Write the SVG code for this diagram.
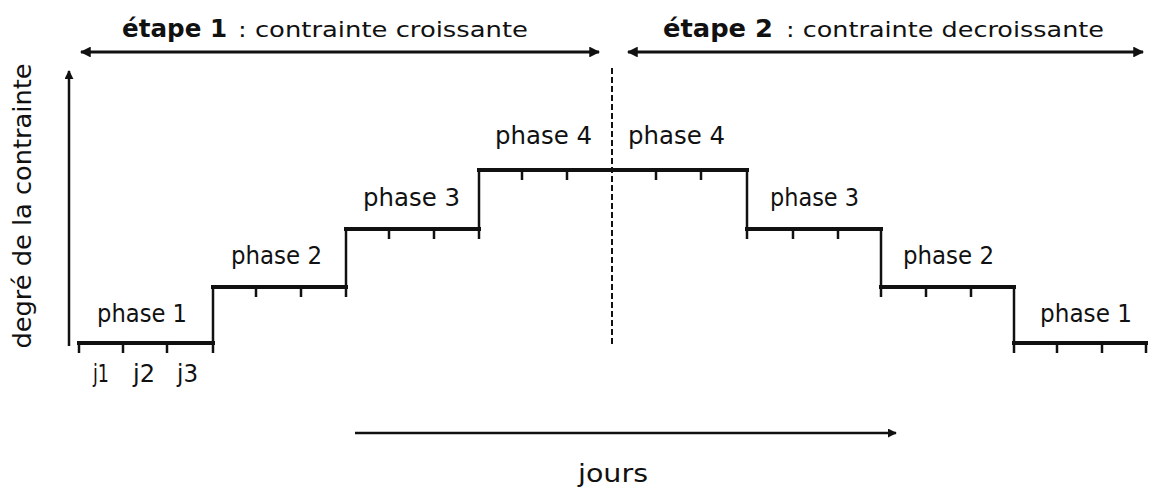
<svg xmlns="http://www.w3.org/2000/svg" width="1150" height="491" viewBox="0 0 1150 491">
  <style>
    text { font-family: "DejaVu Sans", "Liberation Sans", sans-serif; fill: #111; }
    .title { font-size: 25px; font-weight: bold; }
    .sub { font-size: 22px; }
    .lbl { font-size: 24px; }
    .step { stroke: #111; stroke-width: 4; fill: none; stroke-linecap: square; }
    .thin { stroke: #111; stroke-width: 2.5; fill: none; }
    .arrow { stroke: #111; stroke-width: 3; fill: none; }
    .dash { stroke: #111; stroke-width: 2; stroke-dasharray: 6 3; fill: none; }
  </style>
  <defs>
    <marker id="ah" viewBox="0 0 10 10" refX="9" refY="5" markerWidth="3.6" markerHeight="3.6" orient="auto-start-reverse" markerUnits="strokeWidth">
      <path d="M0,0 L10,5 L0,10 Z" fill="#111"/>
    </marker>
  </defs>
  <rect width="1150" height="491" fill="#fff"/>

  <g id="titles">
    <text class="title" x="122" y="37" textLength="105" lengthAdjust="spacingAndGlyphs">étape 1</text>
    <text class="sub" x="238" y="37" textLength="290" lengthAdjust="spacingAndGlyphs">: contrainte croissante</text>
    <text class="title" x="663" y="37" textLength="110" lengthAdjust="spacingAndGlyphs">étape 2</text>
    <text class="sub" x="786" y="37" textLength="318" lengthAdjust="spacingAndGlyphs">: contrainte decroissante</text>
  </g>

  <g id="connectors">
    <line class="arrow" x1="81" y1="52" x2="599" y2="52" marker-start="url(#ah)" marker-end="url(#ah)"/>
    <line class="arrow" x1="628" y1="52" x2="1143" y2="52" marker-start="url(#ah)" marker-end="url(#ah)"/>
    <line class="thin" x1="69" y1="346" x2="69" y2="71" marker-end="url(#ah)"/>
    <line class="thin" x1="355" y1="433" x2="896" y2="433" marker-end="url(#ah)"/>
    <line class="dash" x1="612" y1="68" x2="612" y2="346"/>
  </g>

  <g id="steps">
    <line class="step" x1="79" y1="343" x2="213" y2="343"/>
    <line class="step" x1="213" y1="287" x2="346" y2="287"/>
    <line class="step" x1="346" y1="229" x2="479" y2="229"/>
    <line class="step" x1="479" y1="170" x2="747" y2="170"/>
    <line class="step" x1="747" y1="229" x2="881" y2="229"/>
    <line class="step" x1="881" y1="287" x2="1014" y2="287"/>
    <line class="step" x1="1014" y1="343" x2="1146" y2="343"/>
    <line class="thin" x1="213" y1="287" x2="213" y2="353"/>
    <line class="thin" x1="346" y1="229" x2="346" y2="297"/>
    <line class="thin" x1="479" y1="170" x2="479" y2="239"/>
    <line class="thin" x1="747" y1="170" x2="747" y2="239"/>
    <line class="thin" x1="881" y1="229" x2="881" y2="297"/>
    <line class="thin" x1="1014" y1="287" x2="1014" y2="353"/>
    <line class="thin" x1="79" y1="343" x2="79" y2="353"/>
    <line class="thin" x1="1146" y1="343" x2="1146" y2="353"/>
    <path class="thin" d="M123,343 v10 M167,343 v10
      M256,287 v10 M301,287 v10
      M389,229 v10 M434,229 v10
      M522,170 v10 M567,170 v10 M656,170 v10 M701,170 v10
      M793,229 v10 M838,229 v10
      M926,287 v10 M971,287 v10
      M1057,343 v10 M1102,343 v10"/>
  </g>

  <g id="labels">
    <text class="lbl" x="97" y="322" textLength="90" lengthAdjust="spacingAndGlyphs">phase 1</text>
    <text class="lbl" x="231" y="264" textLength="91" lengthAdjust="spacingAndGlyphs">phase 2</text>
    <text class="lbl" x="363" y="206" textLength="97" lengthAdjust="spacingAndGlyphs">phase 3</text>
    <text class="lbl" x="495" y="144" textLength="97" lengthAdjust="spacingAndGlyphs">phase 4</text>
    <text class="lbl" x="628" y="144" textLength="97" lengthAdjust="spacingAndGlyphs">phase 4</text>
    <text class="lbl" x="770" y="206" textLength="89" lengthAdjust="spacingAndGlyphs">phase 3</text>
    <text class="lbl" x="903" y="264" textLength="91" lengthAdjust="spacingAndGlyphs">phase 2</text>
    <text class="lbl" x="1040" y="322" textLength="92" lengthAdjust="spacingAndGlyphs">phase 1</text>
    <text class="lbl" x="93" y="382" textLength="16" lengthAdjust="spacingAndGlyphs">j1</text>
    <text class="lbl" x="133" y="382" textLength="22" lengthAdjust="spacingAndGlyphs">j2</text>
    <text class="lbl" x="177" y="382" textLength="21" lengthAdjust="spacingAndGlyphs">j3</text>
    <text class="lbl" x="578" y="482" textLength="70" lengthAdjust="spacingAndGlyphs">jours</text>
    <text class="lbl" transform="translate(31,206) rotate(-90)" x="0" y="0" text-anchor="middle" textLength="285" lengthAdjust="spacingAndGlyphs">degré de la contrainte</text>
  </g>
</svg>
